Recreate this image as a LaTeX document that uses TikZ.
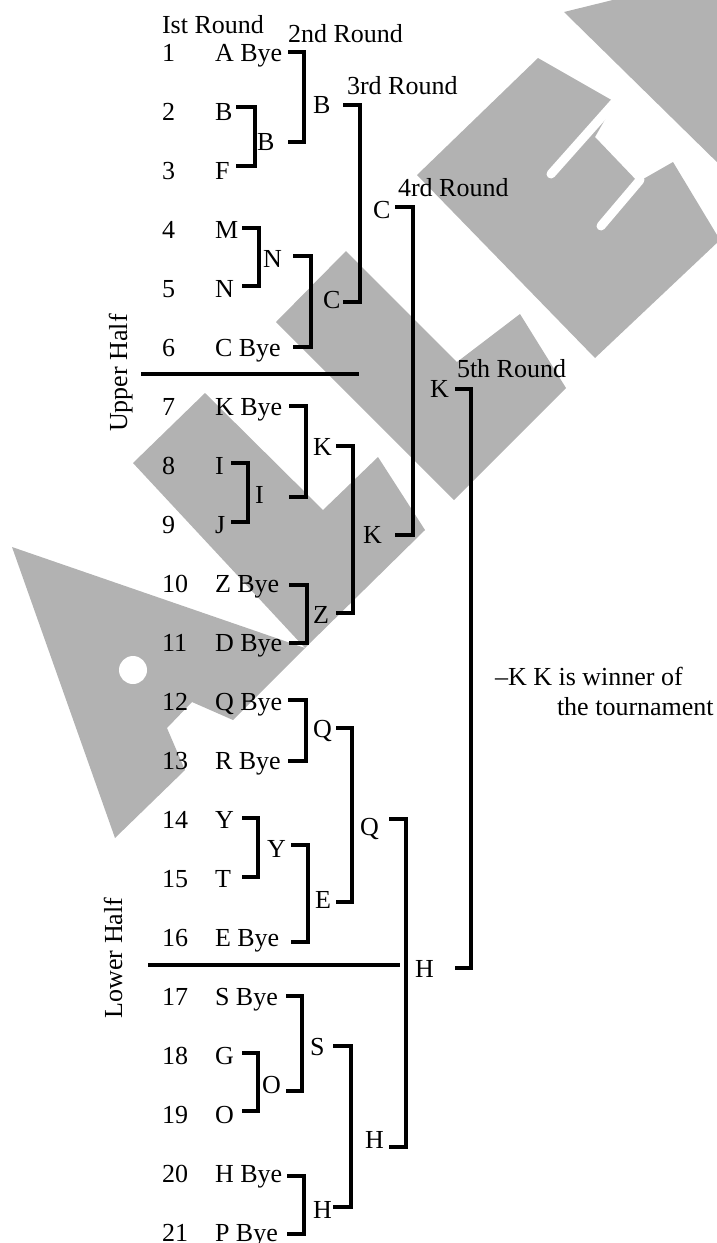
\documentclass[tikz,border=0pt]{standalone}
\usepackage{fontspec}
\setmainfont{Liberation Serif}
\definecolor{wm}{gray}{0.7}
\tikzset{
  lbl/.style={anchor=base west, inner sep=0pt, outer sep=0pt, font=\fontsize{13}{15}\selectfont},
  vlbl/.style={anchor=base, rotate=90, inner sep=0pt, outer sep=0pt, font=\fontsize{13}{15}\selectfont},
  br/.style={line width=1.6pt, line join=miter},
  sepline/.style={line width=1.8pt},
  wmshape/.style={fill=wm, draw=none},
  slit/.style={draw=white, line width=4.5pt, line cap=round},
}
\newcommand\brk[5]{%
  \coordinate (#1t) at (#2,#4);
  \coordinate (#1b) at (#2,#5);
  \draw[br] (#1t) -| (#3,#5) -- (#1b);
}
\begin{document}
\begin{tikzpicture}[x=0.5pt,y=-0.5pt]
\useasboundingbox (0,0) rectangle (717,1243);
% watermark
\begin{scope}
\clip (0,0) rectangle (717,1243);
\fill[wmshape] (564,12) -- (633,-5) -- (725,-5) -- (725,170) -- cycle;
\fill[wmshape] (417,175) -- (538,58) -- (615,102) -- (595,137) -- (638,182) -- (673,162) -- (720,240) -- (595,358) -- cycle;
\draw[slit] (615,102) -- (551,174);
\draw[slit] (640,180) -- (601,226);
\fill[wmshape] (276,322) -- (346,251) -- (457,362) -- (520,314) -- (566,388) -- (454,500) -- cycle;
\fill[wmshape] (133,463) -- (205,393) -- (323,510) -- (378,457) -- (425,530) -- (305,648) -- cycle;
\fill[wmshape] (12,547) -- (305,648) -- (233,720) -- (192,702) -- (167,728) -- (185,770) -- (115,838) -- cycle;
\fill[white] (133,670) circle (14);
\end{scope}
% headers
\node[lbl] (h1) at (162,33) {Ist Round};
\node[lbl] (h2) at (288,42) {2nd Round};
\node[lbl] (h3) at (347,94) {3rd Round};
\node[lbl] (h4) at (398,196) {4rd Round};
\node[lbl] (h5) at (457,377) {5th Round};
% numbers and entrants
\foreach \i in {1,...,21} {
  \node[lbl] (n\i) at (162,{61+59*(\i-1)}) {\i};
}
\foreach \i/\t in {1/A Bye,2/B,3/F,4/M,5/N,6/C Bye,7/K Bye,8/I,9/J,10/Z Bye,11/D Bye,12/Q Bye,13/R Bye,14/Y,15/T,16/E Bye,17/S Bye,18/G,19/O,20/H Bye,21/P Bye} {
  \node[lbl] (e\i) at (215,{61+59*(\i-1)}) {\t};
}
% round 2 labels
\node[lbl] (r2b) at (257,150) {B};
\node[lbl] (r2n) at (263,267) {N};
\node[lbl] (r2i) at (255,503) {I};
\node[lbl] (r2z) at (313,623) {Z};
\node[lbl] (r2q) at (313,737) {Q};
\node[lbl] (r2y) at (267,857) {Y};
\node[lbl] (r2o) at (262,1093) {O};
\node[lbl] (r2h) at (313,1218) {H};
% round 3 labels
\node[lbl] (r3b) at (313,113) {B};
\node[lbl] (r3c) at (323,308) {C};
\node[lbl] (r3k) at (313,455) {K};
\node[lbl] (r3e) at (315,908) {E};
\node[lbl] (r3s) at (310,1055) {S};
% round 4 labels
\node[lbl] (r4c) at (373,218) {C};
\node[lbl] (r4k) at (363,543) {K};
\node[lbl] (r4q) at (360,835) {Q};
\node[lbl] (r4h) at (365,1148) {H};
% round 5 labels
\node[lbl] (r5k) at (430,397) {K};
\node[lbl] (r5h) at (415,977) {H};
% winner
\node[lbl] (w1) at (495,685) {–K K is winner of};
\node[lbl] (w2) at (557,715) {the tournament};
% halves
\node[vlbl] (uh) at (127,373) {Upper Half};
\node[vlbl] (lh) at (122,958) {Lower Half};
\coordinate (us1) at (141,374); \coordinate (us2) at (359,374);
\coordinate (ls1) at (148,965); \coordinate (ls2) at (400,965);
\draw[sepline] (us1) -- (us2);
\draw[sepline] (ls1) -- (ls2);
% brackets: name, left x, vertical x, top y, bottom y
\brk{ba}{288}{304}{52}{142}
\brk{bb}{236}{255}{107}{166}
\brk{bc}{343}{360}{105}{302}
\brk{bd}{242}{259}{228}{286}
\brk{be}{293}{311}{256}{347}
\brk{bf}{395}{413}{207}{535}
\brk{bg}{289}{306}{406}{497}
\brk{bh}{231}{248}{463}{522}
\brk{bi}{336}{353}{446}{613}
\brk{bj}{289}{307}{585}{643}
\brk{bk}{455}{471}{389}{968}
\brk{bl}{288}{306}{700}{761}
\brk{bm}{336}{352}{728}{902}
\brk{bn}{242}{258}{818}{877}
\brk{bo}{291}{308}{845}{942}
\brk{bp}{389}{406}{819}{1147}
\brk{bq}{286}{302}{996}{1091}
\brk{br}{242}{258}{1053}{1111}
\brk{bs}{333}{351}{1046}{1207}
\brk{bt}{287}{304}{1176}{1234}
\end{tikzpicture}
\end{document}
